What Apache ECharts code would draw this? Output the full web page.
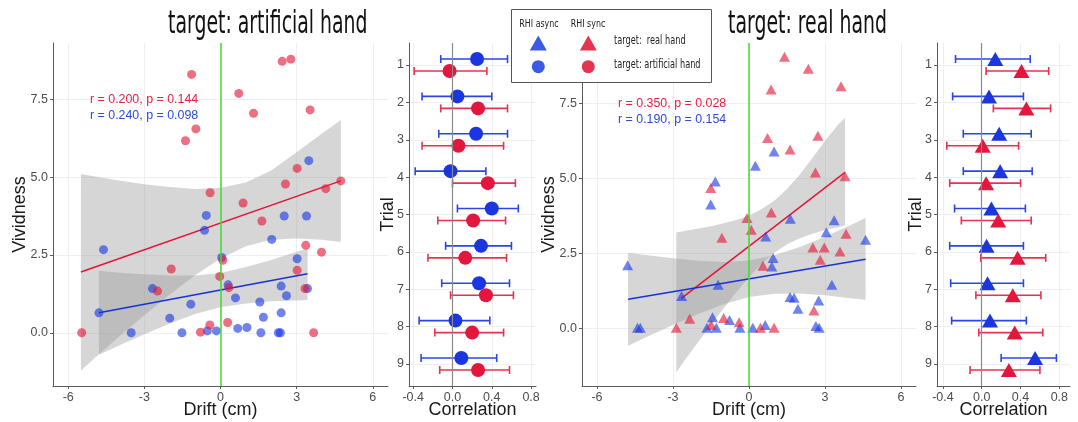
<!DOCTYPE html>
<html>
<head>
<meta charset="utf-8">
<script src="https://cdn.jsdelivr.net/npm/echarts@6/dist/echarts.min.js"></script>
<style>
  html, body { margin: 0; padding: 0; background: #fff; }
  #chart { width: 1078px; height: 422px; }
</style>
</head>
<body>
<div id="chart"></div>
<script>
// ---- data ----
const trials = [1, 2, 3, 4, 5, 6, 7, 8, 9];
const driftTicks = [-6, -3, 0, 3, 6];
const vividTicks = [0, 2.5, 5, 7.5];
const corrTicks = [-0.4, 0, 0.4, 0.8];

// target: artificial hand  [drift, vividness]
const artAsync = [[3.48,5.53],[-0.56,3.77],[2.51,3.75],[3.39,3.75],[-0.63,3.29],[2.02,3.00],[-4.61,2.67],
  [3.02,2.38],[0.05,2.42],[0.30,1.54],[-2.68,1.42],[2.39,1.50],[2.60,1.19],[3.43,1.42],[0.59,1.12],
  [1.55,0.99],[-1.17,0.92],[-4.79,0.64],[2.39,0.64],[-2.00,0.47],[1.69,0.50],[0.68,0.14],[1.04,0.17],
  [-0.52,0.06],[-0.16,0.06],[-3.52,0],[-1.52,0],[1.59,0],[2.28,0],[2.36,0]];
const artSync = [[-1.14,8.30],[2.43,8.72],[2.77,8.79],[0.72,7.69],[1.30,7.05],[3.53,7.16],[-0.97,6.55],
  [-1.38,6.17],[3.02,5.28],[2.56,4.78],[4.15,4.63],[4.74,4.88],[-0.41,4.50],[0.89,4.17],[1.63,3.59],
  [3.36,2.81],[3.98,2.59],[0.09,2.33],[-1.94,2.05],[3.02,2.01],[-0.03,1.81],[0.33,1.45],[-2.48,1.34],
  [3.33,1.42],[-0.42,0.25],[0.28,0.33],[-0.79,0.02],[-5.47,0],[3.67,0]];
const artSyncFit = [[-5.5,1.95],[4.74,4.88]];
const artAsyncFit = [[-4.79,0.64],[3.43,1.90]];
const artSyncBandX = [-5.5,-5,-4,-3,-2,-1,0,1,2,3,4,4.74];
const artSyncLow   = [-1.22,-0.84,-0.13,0.56,1.23,1.85,2.39,2.78,2.99,3.03,2.99,2.92];
const artSyncHigh  = [5.10,5.03,4.89,4.77,4.68,4.62,4.66,4.83,5.21,5.80,6.40,6.84];
const artAsyncBandX = [-4.79,-4,-3,-2,-1,0,1,2,3,3.43];
const artAsyncLow   = [-0.71,-0.41,-0.05,0.30,0.60,0.82,0.94,1.01,1.04,1.05];
const artAsyncHigh  = [1.99,1.93,1.88,1.84,1.84,1.92,2.11,2.34,2.60,2.71];

// target: real hand
const realAsync = [[-4.79,2.11],[-4.40,0.03],[-4.29,0.03],[-2.66,1.09],[-1.66,0.03],[-1.51,4.13],[-1.44,0.38],
  [-1.33,4.90],[-1.29,0.03],[-1.22,1.46],[-0.77,0.29],[-0.36,0.03],[0.15,0.03],[0.25,5.42],[0.64,0.12],
  [0.66,3.07],[0.90,2.07],[0.95,2.35],[0.99,5.90],[1.63,3.66],[1.62,1.05],[1.78,1.03],[1.93,0.66],
  [2.64,0.09],[2.75,0.94],[2.77,0.03],[3.05,3.21],[3.27,1.46],[3.36,3.61],[4.60,2.96]];
const realSync = [[1.40,9.05],[2.34,8.65],[0.87,7.96],[3.63,8.07],[0.73,6.35],[2.72,6.42],[1.62,5.96],
  [2.62,5.20],[3.79,5.07],[-1.51,4.68],[0.88,3.87],[-0.08,3.68],[0.09,3.29],[-1.07,3.03],[3.83,3.16],
  [2.52,2.70],[2.97,2.70],[3.59,2.57],[2.81,2.29],[0.55,2.09],[2.56,0.60],[-2.34,0.33],[-1.00,0.35],
  [-0.39,0.21],[-1.49,0.12],[-2.87,0.03],[0.45,0.03],[0.99,0.03]];
const realSyncFit = [[-2.67,1.01],[3.79,5.20]];
const realAsyncFit = [[-4.77,0.98],[4.60,2.31]];
const realSyncBandX = [-2.87,-2.5,-2,-1.5,-1,-0.5,0,0.5,1,1.5,2,2.5,3,3.5,3.79];
const realSyncLow   = [-1.45,-1.01,-0.44,0.13,0.68,1.21,1.71,2.16,2.53,2.81,3.01,3.16,3.28,3.37,3.44];
const realSyncHigh  = [3.20,3.26,3.33,3.41,3.51,3.62,3.77,3.98,4.26,4.65,5.12,5.68,6.25,6.78,7.01];
const realAsyncBandX = [-4.77,-4,-3,-2,-1,0,1,2,3,4,4.6];
const realAsyncLow   = [-0.57,-0.26,0.12,0.49,0.81,1.05,1.16,1.17,1.11,1.01,0.96];
const realAsyncHigh  = [2.53,2.44,2.34,2.26,2.22,2.27,2.44,2.72,3.06,3.44,3.68];

// correlation per trial
const artAsyncR  = [0.25,0.05,0.24,-0.02,0.40,0.29,0.27,0.03,0.09];
const artAsyncLo = [-0.12,-0.31,-0.14,-0.38,0.05,-0.07,-0.11,-0.34,-0.32];
const artAsyncHi = [0.56,0.40,0.56,0.34,0.67,0.60,0.58,0.38,0.45];
const artSyncR   = [-0.03,0.26,0.06,0.36,0.21,0.13,0.34,0.20,0.26];
const artSyncLo  = [-0.39,-0.12,-0.31,0.00,-0.15,-0.25,-0.02,-0.18,-0.13];
const artSyncHi  = [0.35,0.56,0.52,0.64,0.54,0.55,0.62,0.52,0.58];
const realAsyncR  = [0.14,0.075,0.18,0.19,0.10,0.05,0.06,0.085,0.55];
const realAsyncLo = [-0.27,-0.30,-0.19,-0.19,-0.28,-0.33,-0.32,-0.31,0.20];
const realAsyncHi = [0.50,0.43,0.51,0.52,0.45,0.43,0.43,0.46,0.77];
const realSyncR   = [0.41,0.46,0.01,0.045,0.17,0.37,0.32,0.34,0.28];
const realSyncLo  = [0.045,0.12,-0.36,-0.33,-0.21,-0.01,-0.06,-0.03,-0.12];
const realSyncHi  = [0.69,0.71,0.38,0.40,0.51,0.66,0.61,0.63,0.60];

// ---- styles ----
const RED_DOT = 'rgba(228,22,54,0.78)';
const BLUE_DOT = 'rgba(28,58,228,0.78)';
const RED = '#e3163d';
const BLUE = '#1b36e0';
const RED_BAR = '#e5334f';
const BLUE_BAR = '#2a45e6';
const BAND = 'rgba(153,153,153,0.4)';
const AXIS = '#5a5a5a';
const TICK_TXT = '#4d4d4d';
const SANS = '"Liberation Sans", Arial, sans-serif';

function valueAxis(gi, min, max, ticks, fmt, name, gap, extra) {
  return Object.assign({
    type: 'value', gridIndex: gi, min: min, max: max,
    name: name, nameLocation: 'middle', nameGap: gap, nameMoveOverlap: false,
    nameTextStyle: { fontSize: 18, color: '#1a1a1a', fontFamily: SANS },
    axisLine: { show: true, onZero: false, lineStyle: { color: AXIS, width: 1 } },
    axisTick: { show: true, length: 3, customValues: ticks, lineStyle: { color: AXIS } },
    axisLabel: { customValues: ticks, formatter: fmt, color: TICK_TXT, fontSize: 12.5, fontFamily: SANS, margin: 5 },
    splitLine: { show: true, lineStyle: { color: '#efefef', width: 1 } }
  }, extra || {});
}

function band(axis, xs, lo, hi) {
  return {
    type: 'custom', xAxisIndex: axis, yAxisIndex: axis, silent: true, z: 1,
    data: xs.map((x, i) => [x, lo[i], hi[i]]),
    encode: { x: 0, y: [1, 2] },
    renderItem: (params, api) => {
      if (params.dataIndex !== 0) return null;
      const top = xs.map((x, i) => api.coord([x, hi[i]]));
      const bot = xs.map((x, i) => api.coord([x, lo[i]])).reverse();
      return { type: 'polygon', shape: { points: top.concat(bot) }, style: { fill: BAND } };
    }
  };
}

function fitLine(axis, pts, color, vline) {
  const s = {
    type: 'line', xAxisIndex: axis, yAxisIndex: axis, data: pts, showSymbol: false, silent: true, z: 2,
    lineStyle: { color: color, width: 1.5 }
  };
  if (vline) {
    s.markLine = { symbol: 'none', silent: true, label: { show: false },
      lineStyle: { color: '#3fdc2f', width: 1.5, type: 'solid' }, data: [{ xAxis: 0 }] };
  }
  return s;
}

function dots(axis, pts, symbol, size, color) {
  return { type: 'scatter', xAxisIndex: axis, yAxisIndex: axis, data: pts, symbol: symbol,
    symbolSize: size, itemStyle: { color: color }, z: 4 };
}

function errorBars(axis, lo, hi, color, offset) {
  return {
    type: 'custom', xAxisIndex: axis, yAxisIndex: axis, z: 3, silent: true,
    data: trials.map((t, i) => [lo[i], hi[i], t]),
    encode: { x: [0, 1], y: 2 },
    renderItem: (params, api) => {
      const a = api.coord([api.value(0), api.value(2)]);
      const b = api.coord([api.value(1), api.value(2)]);
      const y = a[1] + offset;
      const st = { stroke: color, lineWidth: 1.6 };
      return { type: 'group', children: [
        { type: 'line', shape: { x1: a[0], y1: y, x2: b[0], y2: y }, style: st },
        { type: 'line', shape: { x1: a[0], y1: y - 4, x2: a[0], y2: y + 4 }, style: st },
        { type: 'line', shape: { x1: b[0], y1: y - 4, x2: b[0], y2: y + 4 }, style: st }
      ] };
    }
  };
}

function corrPoints(axis, r, symbol, size, color, offset, zeroLine) {
  const s = { type: 'scatter', xAxisIndex: axis, yAxisIndex: axis, symbol: symbol, symbolSize: size,
    symbolOffset: [0, offset], data: trials.map((t, i) => [r[i], t]),
    itemStyle: { color: color, opacity: 1 }, z: 4 };
  if (zeroLine) {
    s.markLine = { symbol: 'none', silent: true, label: { show: false },
      lineStyle: { color: '#8a8a8a', width: 1.2, type: 'solid' }, data: [{ xAxis: 0 }] };
  }
  return s;
}

function condText(text, x, y, size, align, scale, color) {
  return { type: 'text', x: x, y: y, scaleX: scale, z: 100,
    style: { text: text, font: size + 'px "DejaVu Sans", sans-serif', fill: color || '#111',
      align: align, textAlign: align, verticalAlign: 'middle', textVerticalAlign: 'middle' } };
}
function plainText(text, x, y, color) {
  return { type: 'text', x: x, y: y, z: 100,
    style: { text: text, font: '12.4px ' + SANS, fill: color,
      align: 'left', textAlign: 'left', verticalAlign: 'middle', textVerticalAlign: 'middle' } };
}

const fmtInt = v => String(v);
const fmt1 = v => v.toFixed(1);
const fmtTrial = v => String(Math.round(v));

const chart = echarts.init(document.getElementById('chart'), null, { renderer: 'canvas' });

const option = {
  animation: false,
  backgroundColor: '#ffffff',
  grid: [
    { left: 53, top: 43, width: 335, height: 343, outerBoundsMode: 'none', containLabel: false },
    { left: 409, top: 43, width: 127, height: 343, outerBoundsMode: 'none', containLabel: false },
    { left: 582, top: 43, width: 334, height: 343, outerBoundsMode: 'none', containLabel: false },
    { left: 937, top: 43, width: 133, height: 343, outerBoundsMode: 'none', containLabel: false }
  ],
  xAxis: [
    valueAxis(0, -6.6, 6.6, driftTicks, fmtInt, 'Drift (cm)', 15),
    valueAxis(1, -0.443, 0.85, corrTicks, fmt1, 'Correlation', 15),
    valueAxis(2, -6.59, 6.59, driftTicks, fmtInt, 'Drift (cm)', 15),
    valueAxis(3, -0.461, 0.91, corrTicks, fmt1, 'Correlation', 15)
  ],
  yAxis: [
    valueAxis(0, -1.71, 9.31, vividTicks, fmt1, 'Vividness', 24),
    valueAxis(1, 0.41, 9.59, trials, fmtTrial, 'Trial', 12, { inverse: true }),
    valueAxis(2, -1.91, 9.51, vividTicks, fmt1, 'Vividness', 24),
    valueAxis(3, 0.41, 9.59, trials, fmtTrial, 'Trial', 12, { inverse: true })
  ],
  graphic: [
    condText('target: artificial hand', 168, 25, 32, 'left', 0.59, '#111'),
    condText('target: real hand', 728, 25, 32, 'left', 0.59, '#111'),
    plainText('r = 0.200, p = 0.144', 90, 99.5, '#e8203f'),
    plainText('r = 0.240, p = 0.098', 90, 115.5, '#2a4be0'),
    plainText('r = 0.350, p = 0.028', 618, 103.5, '#e8203f'),
    plainText('r = 0.190, p = 0.154', 618, 119.5, '#2a4be0'),
    // legend box
    { type: 'rect', z: 90, shape: { x: 511.5, y: 9.5, width: 200, height: 73 },
      style: { fill: '#ffffff', stroke: '#555555', lineWidth: 1 } },
    condText('RHI async', 539, 24, 11, 'center', 0.72, '#222'),
    condText('RHI sync', 588, 24, 11, 'center', 0.72, '#222'),
    { type: 'polygon', z: 100, shape: { points: [[529.8, 50.5], [546.8, 50.5], [538.3, 35.5]] }, style: { fill: '#3b5ae6' } },
    { type: 'polygon', z: 100, shape: { points: [[579.8, 50.5], [596.8, 50.5], [588.3, 35.5]] }, style: { fill: '#e63450' } },
    { type: 'circle', z: 100, shape: { cx: 538.3, cy: 66.7, r: 6.5 }, style: { fill: '#3b5ae6' } },
    { type: 'circle', z: 100, shape: { cx: 588.3, cy: 66.7, r: 6.5 }, style: { fill: '#e63450' } },
    condText('target:  real hand', 614, 41, 13, 'left', 0.63, '#222'),
    condText('target: artificial hand', 614, 65, 13, 'left', 0.63, '#222')
  ],
  series: [
    // panel 1: artificial hand scatter
    band(0, artSyncBandX, artSyncLow, artSyncHigh),
    band(0, artAsyncBandX, artAsyncLow, artAsyncHigh),
    fitLine(0, artSyncFit, '#e3143a', true),
    fitLine(0, artAsyncFit, '#1633d8', false),
    dots(0, artAsync, 'circle', 9, BLUE_DOT),
    dots(0, artSync, 'circle', 9, RED_DOT),
    // panel 2: artificial hand correlations
    errorBars(1, artAsyncLo, artAsyncHi, BLUE_BAR, -6),
    errorBars(1, artSyncLo, artSyncHi, RED_BAR, 6),
    corrPoints(1, artAsyncR, 'circle', 14, BLUE, -6, true),
    corrPoints(1, artSyncR, 'circle', 14, RED, 6, false),
    // panel 3: real hand scatter
    band(2, realSyncBandX, realSyncLow, realSyncHigh),
    band(2, realAsyncBandX, realAsyncLow, realAsyncHigh),
    fitLine(2, realSyncFit, '#e3143a', true),
    fitLine(2, realAsyncFit, '#1633d8', false),
    dots(2, realAsync, 'triangle', [11, 10], BLUE_DOT),
    dots(2, realSync, 'triangle', [11, 10], RED_DOT),
    // panel 4: real hand correlations
    errorBars(3, realAsyncLo, realAsyncHi, BLUE_BAR, -6),
    errorBars(3, realSyncLo, realSyncHi, RED_BAR, 6),
    corrPoints(3, realAsyncR, 'triangle', [16, 14], BLUE, -6, true),
    corrPoints(3, realSyncR, 'triangle', [16, 14], RED, 6, false)
  ]
};

chart.setOption(option);
</script>
</body>
</html>
